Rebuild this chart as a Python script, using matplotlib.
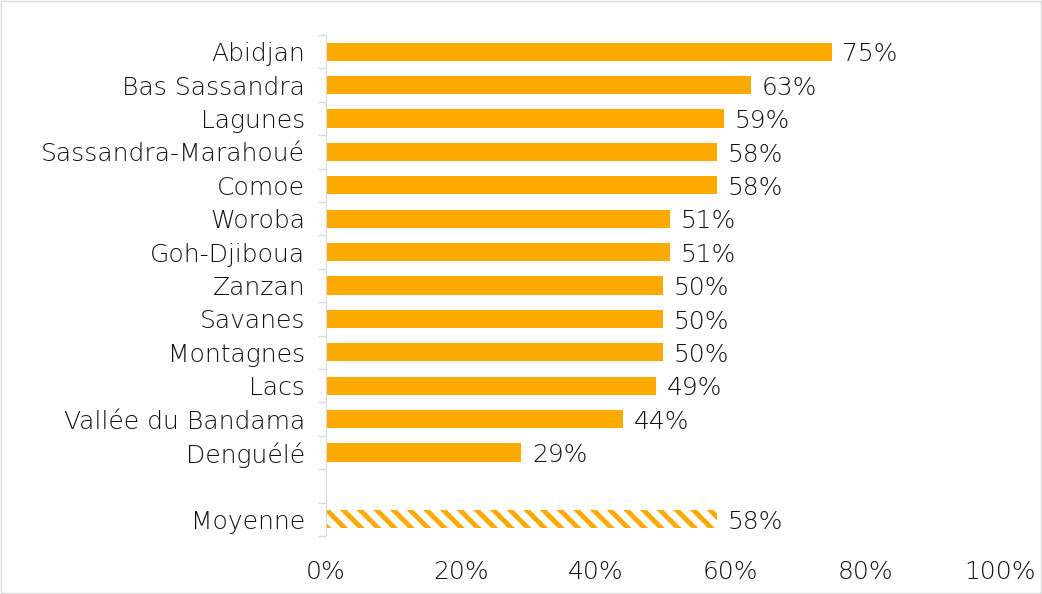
import matplotlib
matplotlib.use("Agg")
import matplotlib.pyplot as plt
import numpy as np
from matplotlib.ticker import FixedLocator, PercentFormatter

regions = ["Abidjan", "Bas Sassandra", "Lagunes", "Sassandra-Marahoué", "Comoe",
           "Woroba", "Goh-Djiboua", "Zanzan", "Savanes", "Montagnes", "Lacs",
           "Vallée du Bandama", "Denguélé"]
values = [75, 63, 59, 58, 58, 51, 51, 50, 50, 50, 49, 44, 29]
avg_label = "Moyenne"
avg_value = 58
x_ticks = [0, 20, 40, 60, 80, 100]

orange = "#FFAA00"
txt = "#111111"
fs = 18
plt.rcParams['font.family'] = ['DejaVu Sans']
plt.rcParams['hatch.linewidth'] = 3.5
plt.rcParams['hatch.color'] = orange

fig = plt.figure(figsize=(10.42, 5.94), dpi=100)
ax = fig.add_axes([326/1042, 1 - 536/594, (1000-326)/1042, (536-35)/594])

n = len(regions)
pos = list(range(n)) + [n + 1]
ax.barh(pos[:n], values, height=0.55, color=orange)
ax.barh([pos[-1]], [avg_value], height=0.55, facecolor="white", edgecolor=orange,
        hatch="\\\\", linewidth=0)

for p, v in zip(pos, values + [avg_value]):
    ax.text(v + 1.6, p + 0.08, f"{v}%", va="center", ha="left", fontsize=fs,
            color=txt, fontweight="light")

ax.set_ylim(n + 1.5, -0.5)
ax.set_xlim(0, 100)
ax.set_yticks(pos)
ax.set_yticklabels(regions + [avg_label], fontsize=fs, color=txt, fontweight="light")
ax.tick_params(axis='y', which='major', length=0, pad=15)
ax.yaxis.set_minor_locator(FixedLocator(np.arange(-0.5, n + 2, 1.0)))
ax.tick_params(axis='y', which='minor', length=6, color="#D9D9D9", width=1)
ax.set_xticks(x_ticks)
ax.xaxis.set_major_formatter(PercentFormatter(decimals=0))
ax.tick_params(axis='x', length=0, labelsize=fs, labelcolor=txt, pad=17)
for lab in ax.get_xticklabels():
    lab.set_fontweight("light")

for s in ["top", "right", "bottom"]:
    ax.spines[s].set_visible(False)
ax.spines["left"].set_color("#D9D9D9")

border = plt.Rectangle((0.001, 0.001), 0.998, 0.998, transform=fig.transFigure,
                       fill=False, edgecolor="#D9D9D9", linewidth=1)
fig.add_artist(border)

fig.savefig("out.png", dpi=100)
